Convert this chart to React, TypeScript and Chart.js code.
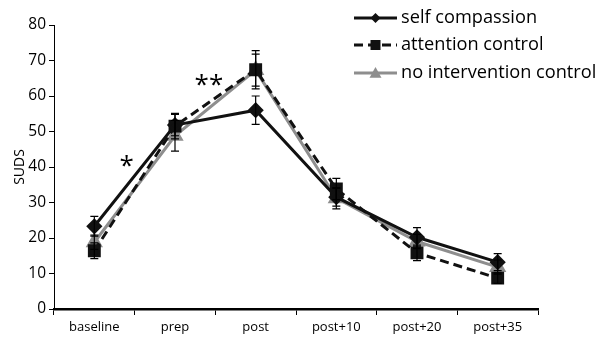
import React, { useEffect, useRef } from "react";
import { Chart, registerables } from "chart.js";

Chart.register(...registerables);

const categories = ["baseline", "prep", "post", "post+10", "post+20", "post+35"];
const selfCompassion = [23.3, 51.8, 56.0, 31.5, 20.2, 13.2];
const selfCompassionErr = [2.8, 3.0, 4.0, 2.5, 2.7, 2.4];
const attentionControl = [16.4, 51.5, 67.4, 33.8, 15.8, 8.7];
const attentionControlErr = [2.2, 3.6, 5.4, 3.0, 2.2, 1.5];
const noIntervention = [18.8, 48.8, 67.3, 31.2, 19.0, 11.8];
const noInterventionErr = [2.0, 4.3, 4.5, 3.0, 2.0, 2.0];
const seriesNames = ["self compassion", "attention control", "no intervention control"];
const yTicks = [0, 10, 20, 30, 40, 50, 60, 70, 80];
const annotations = [
  { text: "*", x: 0.4, y: 40 },
  { text: "**", x: 1.42, y: 63 },
];

const FONT = "'Open Sans', sans-serif";

const errorBarPlugin = {
  id: "errorBars",
  afterDatasetsDraw(chart: any) {
    const ctx = chart.ctx;
    const y = chart.scales.y;
    const errs = [selfCompassionErr, attentionControlErr, noInterventionErr];
    ctx.save();
    ctx.strokeStyle = "#000";
    ctx.lineWidth = 1.2;
    chart.data.datasets.forEach((ds: any, i: number) => {
      const meta = chart.getDatasetMeta(i);
      meta.data.forEach((pt: any, j: number) => {
        const v = ds.data[j];
        const e = errs[i][j];
        const top = y.getPixelForValue(v + e);
        const bot = y.getPixelForValue(v - e);
        const x = pt.x;
        ctx.beginPath();
        ctx.moveTo(x, top);
        ctx.lineTo(x, bot);
        ctx.moveTo(x - 4, top);
        ctx.lineTo(x + 4, top);
        ctx.moveTo(x - 4, bot);
        ctx.lineTo(x + 4, bot);
        ctx.stroke();
      });
    });
    ctx.restore();
  },
};

const annotationPlugin = {
  id: "stars",
  afterDraw(chart: any) {
    const ctx = chart.ctx;
    const xs = chart.scales.x;
    const ys = chart.scales.y;
    ctx.save();
    ctx.fillStyle = "#000";
    ctx.font = `26px ${FONT}`;
    ctx.textAlign = "center";
    ctx.textBaseline = "middle";
    annotations.forEach((a) => {
      ctx.fillText(a.text, xs.getPixelForValue(a.x), ys.getPixelForValue(a.y));
    });
    ctx.restore();
  },
};

const legendPlugin = {
  id: "customLegend",
  afterDraw(chart: any) {
    const ctx = chart.ctx;
    const x0 = 354;
    const x1 = 397;
    const ys = [18, 45, 73];
    ctx.save();
    chart.data.datasets.forEach((ds: any, i: number) => {
      const yy = ys[i];
      ctx.strokeStyle = ds.borderColor;
      ctx.lineWidth = ds.borderWidth;
      ctx.setLineDash(ds.borderDash || []);
      ctx.beginPath();
      ctx.moveTo(x0, yy);
      ctx.lineTo(x1, yy);
      ctx.stroke();
      ctx.setLineDash([]);
      ctx.fillStyle = ds.pointBackgroundColor;
      const cx = (x0 + x1) / 2;
      const r = ds.legendRadius;
      ctx.beginPath();
      if (ds.pointStyle === "rectRot") {
        ctx.moveTo(cx, yy - r);
        ctx.lineTo(cx + r, yy);
        ctx.lineTo(cx, yy + r);
        ctx.lineTo(cx - r, yy);
      } else if (ds.pointStyle === "rect") {
        ctx.rect(cx - r, yy - r, 2 * r, 2 * r);
      } else {
        ctx.moveTo(cx, yy - r);
        ctx.lineTo(cx + r, yy + r * 0.8);
        ctx.lineTo(cx - r, yy + r * 0.8);
      }
      ctx.closePath();
      ctx.fill();
      ctx.fillStyle = "#000";
      ctx.font = `18.2px ${FONT}`;
      ctx.textAlign = "left";
      ctx.textBaseline = "middle";
      ctx.fillText(seriesNames[i], 401, yy);
    });
    ctx.restore();
  },
};

export default function App() {
  const ref = useRef<HTMLCanvasElement | null>(null);
  useEffect(() => {
    document.body.style.margin = "0";
    const chart = new Chart(ref.current as HTMLCanvasElement, {
      type: "line",
      data: {
        labels: categories,
        datasets: [
          {
            label: seriesNames[0],
            data: selfCompassion,
            borderColor: "#111",
            backgroundColor: "#111",
            pointBackgroundColor: "#111",
            pointBorderColor: "#111",
            borderWidth: 3,
            pointStyle: "rectRot",
            pointRadius: 6,
            legendRadius: 5,
            tension: 0,
          } as any,
          {
            label: seriesNames[1],
            data: attentionControl,
            borderColor: "#111",
            backgroundColor: "#111",
            pointBackgroundColor: "#111",
            pointBorderColor: "#111",
            borderWidth: 3,
            borderDash: [9, 5],
            pointStyle: "rect",
            pointRadius: 7,
            legendRadius: 5,
            tension: 0,
          } as any,
          {
            label: seriesNames[2],
            data: noIntervention,
            borderColor: "#8e8e8e",
            backgroundColor: "#8e8e8e",
            pointBackgroundColor: "#8e8e8e",
            pointBorderColor: "#8e8e8e",
            borderWidth: 3,
            pointStyle: "triangle",
            pointRadius: 7,
            legendRadius: 6,
            tension: 0,
          } as any,
        ],
      },
      options: {
        responsive: false,
        animation: false,
        layout: { padding: { top: 25, right: 65, left: 12, bottom: 0 } },
        plugins: { legend: { display: false }, tooltip: { enabled: false } },
        scales: {
          x: {
            offset: true,
            grid: {
              display: true,
              drawOnChartArea: false,
              offset: true,
              tickLength: 6,
              color: "#000",
            },
            border: { color: "#000", width: 2.5 },
            ticks: { color: "#000", font: { family: FONT, size: 13 }, padding: 4 },
            afterFit: (s: any) => {
              s.height = 32;
            },
          },
          y: {
            min: 0,
            max: 80,
            afterBuildTicks: (s: any) => {
              s.ticks = yTicks.map((v) => ({ value: v }));
            },
            grid: {
              display: true,
              drawOnChartArea: false,
              tickLength: 5,
              color: "#000",
            },
            border: { color: "#000", width: 1 },
            ticks: { color: "#000", font: { family: FONT, size: 15.5 }, padding: 3 },
            title: {
              display: true,
              text: "SUDS",
              color: "#000",
              font: { family: FONT, size: 14 },
              padding: 0,
            },
            afterFit: (s: any) => {
              s.width = 42;
            },
          },
        },
      },
      plugins: [errorBarPlugin, annotationPlugin, legendPlugin],
    });
    return () => chart.destroy();
  }, []);
  return (
    <div style={{ width: 603, height: 341, background: "#fff" }}>
      <canvas ref={ref} width={603} height={341} />
    </div>
  );
}
